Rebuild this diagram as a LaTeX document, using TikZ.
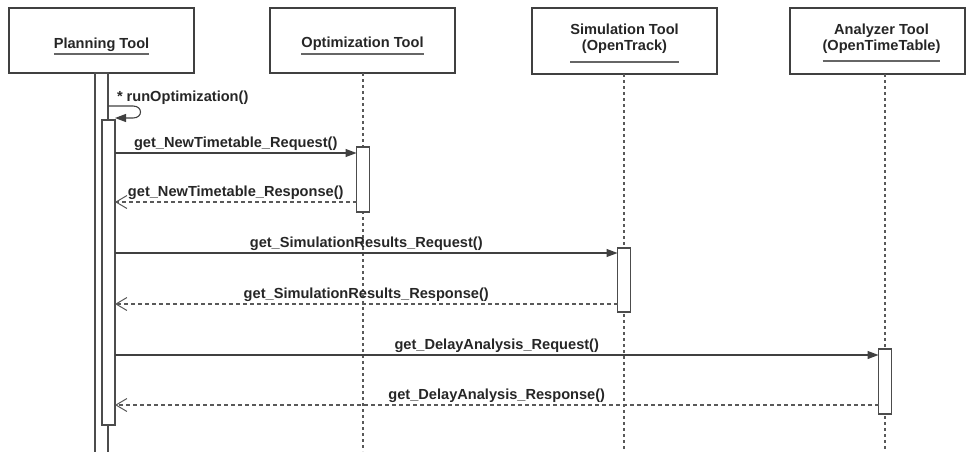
\documentclass[tikz,border=0pt]{standalone}
\usepackage{fontspec}
\setmainfont{Liberation Sans}
\usetikzlibrary{arrows.meta}
\begin{document}
\begin{tikzpicture}[x=1pt,y=-1pt,inner sep=0pt,outer sep=0pt,line width=1.1pt,
font=\fontsize{14.6}{16.5}\selectfont\bfseries,
lane/.style={draw=black!75,rectangle,minimum height=65pt,line width=1.3pt},
title/.style={align=center,text=black!85},
uline/.style={draw=black!60,line width=1.3pt},
act/.style={draw=black!70,fill=white,rectangle,minimum width=13pt},
life/.style={draw=black!65,dash pattern=on 3pt off 3pt},
call/.style={draw=black!75,-{Triangle[length=11pt,width=8pt]}},
reply/.style={draw=black!65,dash pattern=on 4pt off 3pt,-{Straight Barb[length=11pt,width=13pt,line width=1pt]}},
lbl/.style={above=2.5pt,text=black!85}]

\useasboundingbox (0,0) rectangle (967,451);

\draw (101.5,40.5) node[lane,minimum width=185pt] (plan) {};
\draw (362.5,40.5) node[lane,minimum width=185pt] (opt) {};
\draw (624.5,41) node[lane,minimum width=185pt,minimum height=66pt] (sim) {};
\draw (877.5,41) node[lane,minimum width=175pt,minimum height=66pt] (ana) {};

\draw (101.5,48) node[title,anchor=base] (plan-t) {Planning Tool};
\draw (362.5,47) node[title,anchor=base] (opt-t) {Optimization Tool};
\draw (624.5,38.5) node[title] (sim-t) {Simulation Tool\\(OpenTrack)};
\draw (881.5,38.5) node[title] (ana-t) {Analyzer Tool\\(OpenTimeTable)};

\draw[uline] (plan-t.west |- 0,54) -- (plan-t.east |- 0,54);
\draw[uline] (opt-t.west |- 0,54) -- (opt-t.east |- 0,54);
\draw[uline] (sim-t.west |- 0,62) -- (sim-t.east |- 0,62);
\draw[uline] (ana-t.west |- 0,61) -- (ana-t.east |- 0,61);

\draw[life] (363,0 |- opt.south) -- (363,451);
\draw[life] (624,0 |- sim.south) -- (624,451);
\draw[life] (885,0 |- ana.south) -- (885,451);

\draw (101.5,268) node[act,minimum height=390pt] (pb) {};
\draw (108.5,272.5) node[act,minimum height=305pt] (pa) {};
\draw (363,179.5) node[act,minimum height=65pt] (oa) {};
\draw (624,280) node[act,minimum height=64pt] (sa) {};
\draw (885,381.5) node[act,minimum height=65pt] (aa) {};

\draw[call] (pb.east |- 0,106) -- ++(25,0) .. controls +(10,0) and +(10,0) .. ++(0,12) -- ([yshift=2pt]pa.north east);
\draw (117,101) node[anchor=base west,text=black!85] (self) {* runOptimization()};

\draw[call] (pa.east |- 0,153) -- node[lbl] (m1) {get\_NewTimetable\_Request()} (oa.west |- 0,153);
\draw[reply] (oa.west |- 0,202) -- node[lbl] (m2) {get\_NewTimetable\_Response()} (pa.east |- 0,202);
\draw[call] (pa.east |- 0,253) -- node[lbl] (m3) {get\_SimulationResults\_Request()} (sa.west |- 0,253);
\draw[reply] (sa.west |- 0,304) -- node[lbl] (m4) {get\_SimulationResults\_Response()} (pa.east |- 0,304);
\draw[call] (pa.east |- 0,355) -- node[lbl] (m5) {get\_DelayAnalysis\_Request()} (aa.west |- 0,355);
\draw[reply] (aa.west |- 0,405) -- node[lbl] (m6) {get\_DelayAnalysis\_Response()} (pa.east |- 0,405);

\end{tikzpicture}
\end{document}
